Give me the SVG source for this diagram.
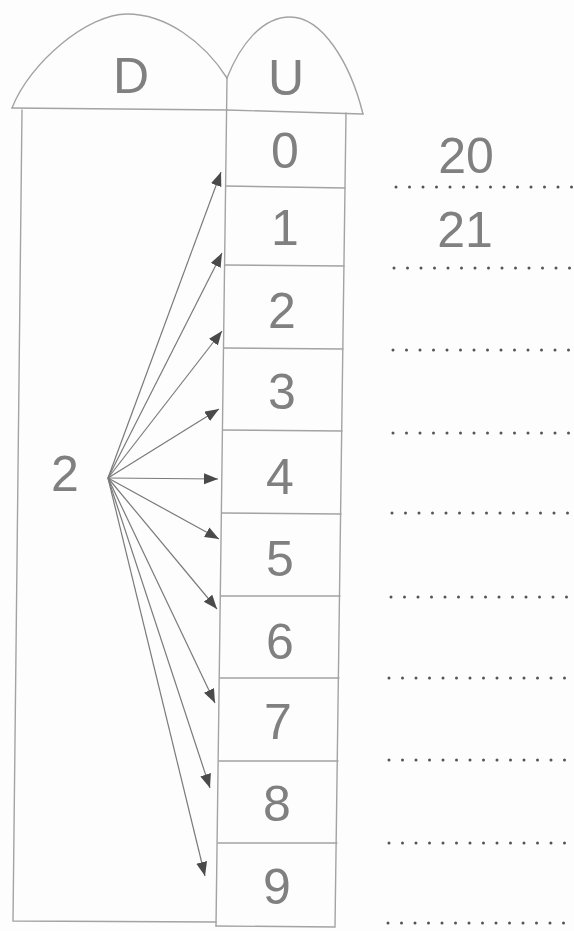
<svg xmlns="http://www.w3.org/2000/svg" width="574" height="931" viewBox="0 0 574 931">
<defs>
<style>
.ln{fill:none;stroke:#a3a3a3;stroke-width:1.4;stroke-linecap:round}
.t{font-family:"Liberation Sans",Arial,sans-serif;font-size:50px;fill:#808080;text-anchor:middle}
.dot{fill:none;stroke:#555;stroke-width:3;stroke-linecap:round;stroke-dasharray:0 13.5}
.ar{fill:none;stroke:#7a7a7a;stroke-width:1.2}
</style>
<marker id="ah" markerUnits="userSpaceOnUse" markerWidth="16" markerHeight="12" refX="14" refY="5.5" orient="auto">
<path d="M0,0 L14,5.5 L0,11 Z" fill="#4a4a4a"/>
</marker>
</defs>
<rect width="574" height="931" fill="#fdfdfd"/>
<g id="header-D">
<path class="ln" d="M12,108 C30,62 88,14 127,14 C166,14 204,42 227,78"/>
<path class="ln" d="M12,108 L227,110"/>
<text class="t" x="131" y="93">D</text>
</g>
<g id="header-U">
<path class="ln" d="M227,78 C240,45 262,17 290,17 C322,17 350,62 363,114"/>
<path class="ln" d="M227,110 L363,114"/>
<text class="t" x="286" y="95">U</text>
</g>
<g id="column-D">
<path class="ln" d="M22,110 L13,921 L216,922"/>
<path class="ln" d="M227,78 L216,926"/>
<text class="t" x="65" y="491">2</text>
</g>
<g id="column-U">
<path class="ln" d="M346,113 L335,927 L216,926"/>
</g>
<g id="cell-0"><text class="t" x="285" y="168">0</text></g>
<g id="cell-1"><path class="ln" d="M226,186 L345,188"/><text class="t" x="285" y="245">1</text></g>
<g id="cell-2"><path class="ln" d="M225,265 L344,266"/><text class="t" x="282" y="328">2</text></g>
<g id="cell-3"><path class="ln" d="M224,348 L343,349"/><text class="t" x="282" y="409">3</text></g>
<g id="cell-4"><path class="ln" d="M223,430 L342,431"/><text class="t" x="280" y="494">4</text></g>
<g id="cell-5"><path class="ln" d="M222,513 L341,514"/><text class="t" x="280" y="576">5</text></g>
<g id="cell-6"><path class="ln" d="M221,596 L340,596"/><text class="t" x="280" y="659">6</text></g>
<g id="cell-7"><path class="ln" d="M220,678 L339,678"/><text class="t" x="278" y="739">7</text></g>
<g id="cell-8"><path class="ln" d="M219,761 L338,761"/><text class="t" x="277" y="821">8</text></g>
<g id="cell-9"><path class="ln" d="M218,843 L337,843"/><text class="t" x="277" y="904">9</text></g>
<g id="connectors">
<path class="ar" marker-end="url(#ah)" d="M108,478 L221,172"/>
<path class="ar" marker-end="url(#ah)" d="M108,478 L222,253"/>
<path class="ar" marker-end="url(#ah)" d="M108,478 L222,331"/>
<path class="ar" marker-end="url(#ah)" d="M108,478 L219,409"/>
<path class="ar" marker-end="url(#ah)" d="M108,478 L218,479"/>
<path class="ar" marker-end="url(#ah)" d="M108,478 L219,539"/>
<path class="ar" marker-end="url(#ah)" d="M108,478 L217,609"/>
<path class="ar" marker-end="url(#ah)" d="M108,478 L215,703"/>
<path class="ar" marker-end="url(#ah)" d="M108,478 L210,788"/>
<path class="ar" marker-end="url(#ah)" d="M108,478 L205,876"/>
</g>
<g id="answers">
<text class="t" x="466" y="173">20</text>
<text class="t" x="465" y="247">21</text>
<path class="dot" d="M396,187 L580,187"/>
<path class="dot" d="M394,268 L580,268"/>
<path class="dot" d="M393,350 L580,350"/>
<path class="dot" d="M393,433 L580,433"/>
<path class="dot" d="M392,513 L580,513"/>
<path class="dot" d="M391,597 L580,597"/>
<path class="dot" d="M389,678 L580,678"/>
<path class="dot" d="M389,760 L580,760"/>
<path class="dot" d="M389,843 L580,843"/>
<path class="dot" d="M388,923 L580,923"/>
</g>
</svg>
